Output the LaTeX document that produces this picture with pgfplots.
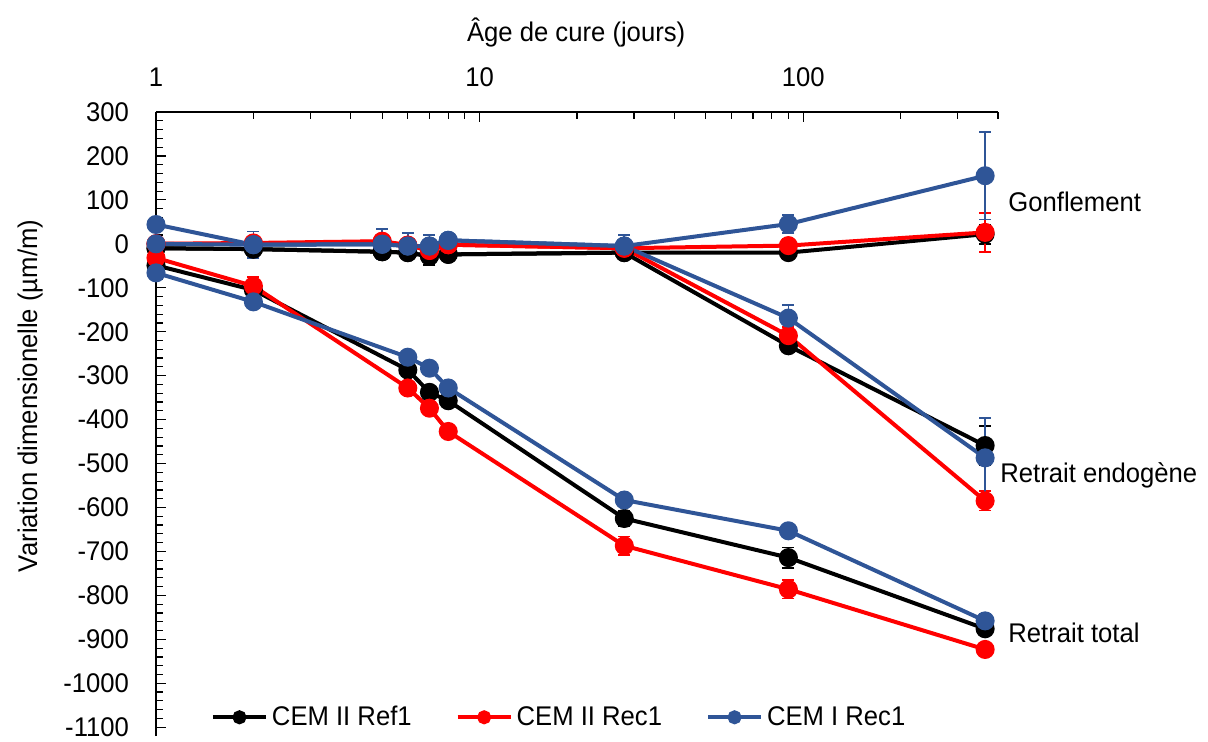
\documentclass[border=0pt]{standalone}
\usepackage{fontspec}
\setmainfont{Liberation Sans}[FakeStretch=0.95]
\usepackage{pgfplots}
\pgfplotsset{compat=1.18}
\definecolor{cblue}{HTML}{2F5597}
\definecolor{cred}{HTML}{FF0000}
\begin{document}
\begin{tikzpicture}[font=\fontsize{13.5}{16}\selectfont]
\path[use as bounding box] (-78pt,-2.5pt) rectangle (526pt,368pt);
\begin{axis}[
  at={(0,0)}, anchor=south west,
  width=421pt, height=312pt, scale only axis,
  xmode=log, xmin=1, xmax=400, ymin=-1120, ymax=300,
  axis x line*=top, axis y line*=left,
  axis line style={line width=1pt},
  tick align=inside,
  major tick length=5pt, minor tick length=3.5pt,
  every tick/.style={black, line width=0.6pt},
  xtick={1,10,100}, xticklabels={1,10,100},
  minor xtick={2,3,4,5,6,7,8,9,20,30,40,50,60,70,80,90,200,300,400},
  ytick={-1100,-1000,...,300}, minor y tick num=4,
  /pgf/number format/assume math mode=true,
  /pgf/number format/.cd, 1000 sep={}, /pgfplots/.cd,
  yticklabel style={xshift=-10pt},
  xticklabel style={yshift=9pt},
  xlabel={Âge de cure (jours)},
  xlabel style={at={(axis description cs:0.499,1)}, anchor=center, yshift=39.5pt},
  ylabel={Variation dimensionelle (µm/m)},
  ylabel style={at={(axis description cs:-0.1496,0.545)}, anchor=center},
  clip=false,
  legend style={at={(rel axis cs:0.48,0.03)}, anchor=center, draw=none, fill=none,
    inner sep=0pt, /tikz/every even column/.append style={column sep=20pt}},
  legend columns=3,
  legend image code/.code={\draw[mark repeat=2,mark phase=2,mark size=2.5pt] plot coordinates {(0pt,0pt)(13.25pt,0pt)(26.5pt,0pt)};},
  every axis plot/.append style={line width=2pt, mark=*, mark size=3.75pt,
    error bars/y dir=both, error bars/y explicit,
    error bars/error bar style={line width=0.8pt},
    error bars/error mark options={rotate=90, mark size=3pt, line width=0.8pt}},
]
% ---- CEM II Ref1 (black)
\addplot[color=black] coordinates {
 (1,-49) +- (0,5) (2,-105) +- (0,8) (6,-287) +- (0,10) (7,-338) +- (0,10) (8,-357) +- (0,12)
 (28,-625) +- (0,17) (90,-714) +- (0,23) (365,-876) +- (0,12)};
\addlegendentry{CEM II Ref1}
\addplot[color=black, forget plot] coordinates {
 (1,-10) +- (0,5) (2,-12) +- (0,8) (5,-18) +- (0,17) (6,-20) +- (0,15) (7,-28) +- (0,20) (8,-24) +- (0,15)
 (28,-20) +- (0,10) (90,-232) +- (0,15) (365,-459) +- (0,45)};
\addplot[color=black, forget plot] coordinates {
 (1,-10) +- (0,5) (2,-12) +- (0,8) (5,-18) +- (0,12) (6,-20) +- (0,10) (7,-28) +- (0,12) (8,-24) +- (0,10)
 (28,-20) +- (0,10) (90,-20) +- (0,12) (365,22) +- (0,22)};
% ---- CEM II Rec1 (red)
\addplot[color=cred] coordinates {
 (1,-32) +- (0,8) (2,-96) +- (0,20) (6,-328) +- (0,15) (7,-374) +- (0,12) (8,-427) +- (0,10)
 (28,-687) +- (0,21) (90,-786) +- (0,21) (365,-923) +- (0,15)};
\addlegendentry{CEM II Rec1}
\addplot[color=cred, forget plot] coordinates {
 (1,0) +- (0,5) (2,0) +- (0,10) (5,5) +- (0,10) (6,-3) +- (0,8) (7,-15) +- (0,10) (8,-2) +- (0,8)
 (28,-10) +- (0,10) (90,-209) +- (0,20) (365,-585) +- (0,22)};
\addplot[color=cred, forget plot] coordinates {
 (1,0) +- (0,5) (2,2) +- (0,15) (5,6) +- (0,10) (6,-3) +- (0,8) (7,-15) +- (0,10) (8,-2) +- (0,8)
 (28,-10) +- (0,12) (90,-4) +- (0,15) (365,26) +- (0,44)};
% ---- CEM I Rec1 (blue)
\addplot[color=cblue] coordinates {
 (1,-66) +- (0,5) (2,-132) +- (0,15) (6,-258) +- (0,10) (7,-283) +- (0,8) (8,-328) +- (0,8)
 (28,-583) +- (0,8) (90,-653) +- (0,8) (365,-858) +- (0,15)};
\addlegendentry{CEM I Rec1}
\addplot[color=cblue, forget plot] coordinates {
 (1,0) +- (0,5) (2,-2) +- (0,15) (5,-1) +- (0,10) (6,-5) +- (0,8) (7,-5) +- (0,8) (8,8) +- (0,8)
 (28,-5) +- (0,10) (90,-169) +- (0,30) (365,-487) +- (0,91)};
\addplot[color=cblue, forget plot] coordinates {
 (1,44) +- (0,5) (2,-2) +- (0,30) (5,-1) +- (0,35) (6,-5) +- (0,30) (7,-5) +- (0,25) (8,8) +- (0,10)
 (28,-5) +- (0,25) (90,45) +- (0,20) (365,155) +- (0,100)};
\node[anchor=west, inner sep=0pt, xshift=5pt] at (rel axis cs:1,0.8565) {Gonflement};
\node[anchor=west, inner sep=0pt, xshift=1pt] at (rel axis cs:1,0.418) {Retrait endogène};
\node[anchor=west, inner sep=0pt, xshift=5pt] at (rel axis cs:1,0.166) {Retrait total};
\end{axis}
\end{tikzpicture}
\end{document}
